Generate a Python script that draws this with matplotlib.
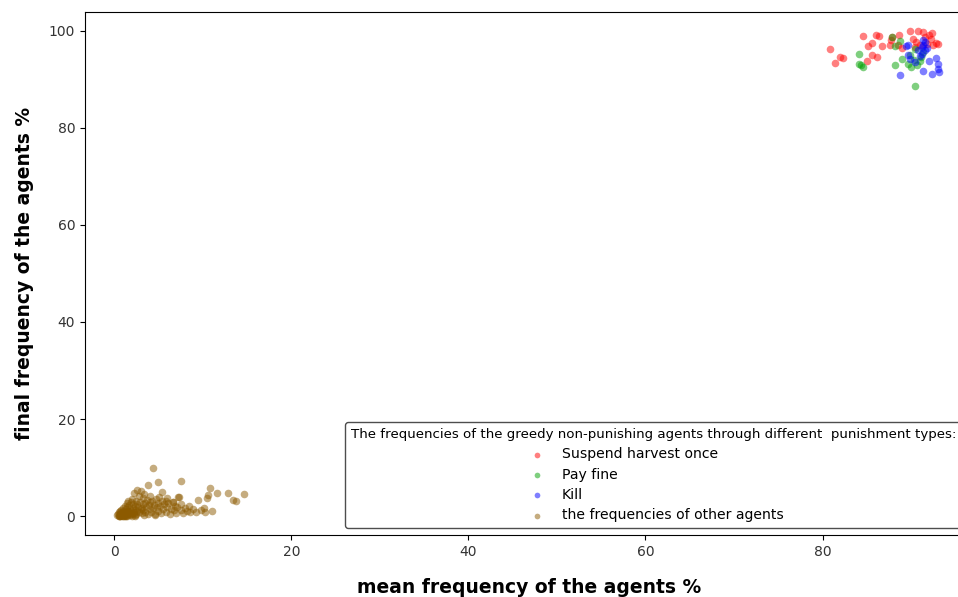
import matplotlib
matplotlib.use('Agg')
from matplotlib import pyplot as plt

# greedy non-punishing agents, per punishment type (mean %, final %)
suspend_x = [80.8, 81.4, 82.0, 82.3, 84.6, 86.0, 86.4, 85.1, 85.6, 85.6, 86.2, 85.0,
             86.7, 87.6, 87.9, 88.6, 89.9, 90.8, 88.5, 87.7, 90.5, 91.6, 92.2, 92.8,
             93.0, 91.4, 92.0, 90.6, 92.4, 91.0, 91.8, 92.5, 89.0, 90.2]
suspend_y = [96.3, 93.3, 94.6, 94.5, 99.0, 99.2, 99.0, 96.9, 97.5, 95.0, 94.6, 93.8,
             96.9, 97.1, 98.8, 99.2, 99.9, 99.9, 97.1, 98.1, 96.7, 98.8, 98.4, 97.5,
             97.3, 99.8, 99.2, 97.7, 99.6, 97.0, 97.4, 97.0, 96.5, 98.4]

fine_x = [84.1, 84.1, 84.4, 84.6, 87.9, 88.2, 88.2, 89.0, 89.9, 90.3, 90.7, 90.4,
          89.7, 91.1, 90.5, 88.7, 90.0, 91.0, 91.4]
fine_y = [95.3, 93.2, 92.9, 92.6, 98.8, 96.9, 93.0, 94.2, 95.0, 94.0, 93.0, 88.7,
          93.2, 94.6, 96.3, 98.0, 92.5, 93.8, 95.6]

kill_x = [88.7, 89.6, 89.4, 89.7, 90.8, 91.2, 91.4, 91.6, 91.3, 91.4, 92.0, 92.8,
          93.0, 92.4, 93.0, 93.2, 90.5, 89.9, 91.0, 91.8, 91.6, 91.2]
kill_y = [90.9, 95.0, 96.9, 97.1, 96.0, 95.3, 97.2, 97.8, 98.2, 91.8, 93.8, 94.4,
          93.2, 91.1, 92.2, 91.5, 93.6, 94.2, 94.8, 96.5, 96.0, 96.6]

# frequencies of the other agents
other_x = [0.3, 0.4, 0.5, 0.5, 0.6, 0.6, 0.7, 0.7, 0.8, 0.8, 0.9, 0.9, 1.0, 1.0, 1.1,
           1.1, 1.2, 1.2, 1.3, 1.3, 1.4, 1.4, 1.5, 1.5, 1.6, 1.6, 1.7, 1.7, 1.8, 1.8,
           1.9, 1.9, 2.0, 2.0, 2.1, 2.1, 2.2, 2.2, 2.3, 2.4, 2.5, 2.5, 2.6, 2.7, 2.8,
           2.8, 2.9, 3.0, 3.0, 3.1, 3.2, 3.2, 3.3, 3.4, 3.5, 3.5, 3.6, 3.7, 3.8, 3.9,
           4.0, 4.0, 4.1, 4.2, 4.3, 4.4, 4.5, 4.6, 4.7, 4.8, 4.9, 5.0, 5.1, 5.2, 5.3,
           5.4, 5.5, 5.6, 5.8, 5.9, 6.0, 6.1, 6.3, 6.4, 6.6, 6.7, 6.9, 7.0, 7.1, 7.3,
           7.5, 7.6, 7.8, 8.0, 8.2, 8.4, 8.6, 8.9, 9.2, 9.5, 9.8, 10.1, 10.3, 10.5,
           10.6, 10.8, 11.0, 11.6, 12.8, 13.4, 13.8, 14.7, 4.4, 7.5, 4.9, 3.8, 2.6,
           5.4, 7.2, 6.0, 6.6, 1.0, 1.5, 2.3, 0.6, 0.9, 1.2, 3.4, 2.0, 4.6,
           0.7, 1.1, 1.4, 1.8, 2.2, 2.6, 0.5, 0.9, 1.3, 1.7, 2.4, 3.1]
other_y = [0.2, 0.5, 0.1, 0.8, 0.3, 1.1, 0.0, 0.6, 0.4, 1.3, 0.2, 0.9, 0.5, 1.6, 0.1,
           1.0, 0.7, 2.1, 0.3, 1.4, 0.8, 2.6, 0.4, 1.8, 1.1, 3.0, 0.6, 2.2, 1.5, 0.2,
           2.8, 1.0, 0.5, 3.5, 1.7, 2.4, 0.9, 4.8, 2.0, 1.3, 0.4, 3.1, 2.5, 1.8, 0.8,
           4.1, 2.9, 1.5, 5.2, 0.6, 2.4, 3.8, 1.2, 4.5, 0.9, 2.7, 1.9, 3.4, 0.5, 2.2,
           1.4, 4.2, 2.8, 0.8, 3.0, 1.6, 2.3, 0.4, 3.6, 1.9, 2.6, 1.1, 4.0, 2.0, 0.6,
           3.2, 1.5, 2.4, 0.9, 3.0, 1.8, 2.6, 0.5, 1.4, 2.9, 1.2, 2.0, 0.7, 1.9, 3.9,
           1.3, 2.4, 0.6, 1.7, 1.1, 2.0, 0.8, 1.5, 0.9, 3.3, 1.2, 1.6, 0.8, 3.7, 4.3,
           5.8, 1.0, 4.7, 4.7, 3.3, 3.1, 4.5, 9.9, 7.2, 7.0, 6.4, 5.4, 4.9, 3.9, 3.7,
           2.9, 0.0, 0.0, 0.1, 0.0, 0.1, 0.0, 0.2, 0.1, 0.3,
           0.3, 0.2, 0.6, 0.4, 0.7, 1.0, 0.0, 0.4, 0.1, 0.9, 0.3, 1.7]

labels = ['Suspend harvest once', 'Pay fine', 'Kill', 'the frequencies of other agents']
colors = ['red', '#00a000', 'blue', '#8c5a00']

fig = plt.figure(figsize=(9.58, 5.97), dpi=100)
ax = fig.add_axes([0.0887, 0.1039, 0.927, 0.876])

ax.scatter(suspend_x, suspend_y, s=30, color=colors[0], alpha=0.5, linewidths=0, label=labels[0])
ax.scatter(fine_x, fine_y, s=30, color=colors[1], alpha=0.5, linewidths=0, label=labels[1])
ax.scatter(kill_x, kill_y, s=30, color=colors[2], alpha=0.5, linewidths=0, label=labels[2])
ax.scatter(other_x, other_y, s=30, color=colors[3], alpha=0.5, linewidths=0, label=labels[3])

ax.set_xlim(-3.3, 97)
ax.set_ylim(-3.9, 103.9)
ax.set_xlabel('mean frequency of the agents %', fontsize=13.5, fontweight='bold', labelpad=14)
ax.set_ylabel('final frequency of the agents %', fontsize=13.5, fontweight='bold', labelpad=11)
ax.tick_params(labelsize=10, labelcolor='#333333')

leg = ax.legend(loc='lower right', fontsize=10.1, title_fontsize=9.6, markerscale=0.75,
                borderaxespad=0.5, bbox_to_anchor=(0.995, 0), labelspacing=0.45,
                title='The frequencies of the greedy non-punishing agents through different  punishment types:')
leg.get_frame().set_edgecolor('0.3')
leg.get_frame().set_alpha(1)

fig.savefig('out.png', dpi=100)
